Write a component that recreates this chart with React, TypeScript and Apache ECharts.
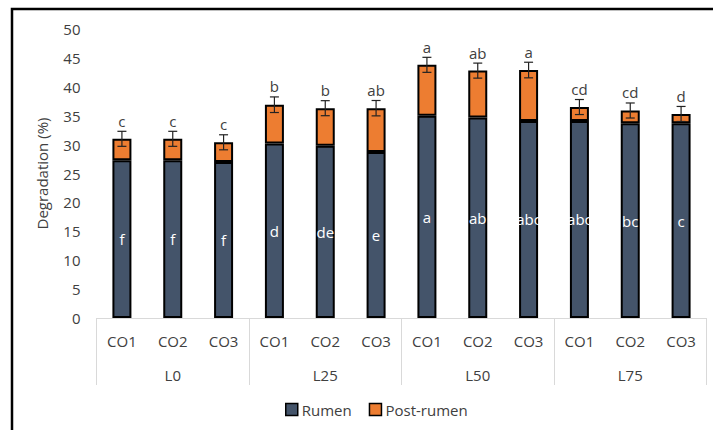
import React, { useEffect, useRef } from "react";
import * as echarts from "echarts";

const treatments = ["CO1", "CO2", "CO3", "CO1", "CO2", "CO3", "CO1", "CO2", "CO3", "CO1", "CO2", "CO3"];
const levels = ["L0", "L25", "L50", "L75"];
const rumen = [27.3, 27.3, 27.0, 30.2, 29.8, 28.7, 35.0, 34.7, 34.1, 34.1, 33.7, 33.7];
const postRumen = [3.7, 3.7, 3.4, 6.7, 6.5, 7.6, 8.8, 8.1, 8.8, 2.4, 2.2, 1.6];
const errorSE = [1.3, 1.3, 1.3, 1.35, 1.3, 1.33, 1.3, 1.3, 1.35, 1.3, 1.3, 1.3];
const rumenLetters = ["f", "f", "f", "d", "de", "e", "a", "ab", "abc", "abc", "bc", "c"];
const totalLetters = ["c", "c", "c", "b", "b", "ab", "a", "ab", "a", "cd", "cd", "d"];
const yTicks = { min: 0, max: 50, interval: 5 };

const FONT = "'Open Sans', 'Noto Sans', sans-serif";
const TEXT = "#404040";
const AXIS = "#d9d9d9";

export default function App() {
  const ref = useRef<HTMLDivElement>(null);
  useEffect(() => {
    document.body.style.margin = "0";
    const chart = echarts.init(ref.current!, null, { renderer: "svg" });
    const totals = rumen.map((r, i) => +(r + postRumen[i]).toFixed(2));
    const errData = totals.map((t, i) => [i, t, errorSE[i]]);
    chart.setOption({
      animation: false,
      textStyle: { fontFamily: FONT },
      graphic: [
        {
          type: "rect",
          shape: { x: 12, y: 9, width: 740, height: 460 },
          style: { fill: "none", stroke: "#000", lineWidth: 2.5 },
          silent: true,
        },
      ],
      legend: {
        left: 280,
        top: 397,
        itemWidth: 12,
        itemHeight: 12,
        itemGap: 17,
        textStyle: { fontFamily: FONT, fontSize: 15, color: TEXT, padding: [0, 0, 0, -1] },
        data: [
          { name: "Rumen", icon: "rect", itemStyle: { borderColor: "#000", borderWidth: 1.5 } },
          { name: "Post-rumen", icon: "rect", itemStyle: { borderColor: "#000", borderWidth: 1.5 } },
        ],
      },
      grid: { left: 96.5, right: 6.5, top: 29, bottom: 112, containLabel: false },
      xAxis: [
        {
          type: "category",
          data: treatments,
          axisLine: { show: true, lineStyle: { color: AXIS, width: 1 } },
          axisTick: { show: false },
          axisLabel: { color: TEXT, fontSize: 15, fontFamily: FONT, margin: 15, interval: 0 },
        },
        {
          type: "category",
          data: levels,
          position: "bottom",
          axisLine: { show: false },
          axisTick: { show: true, length: 67, lineStyle: { color: AXIS, width: 1 } },
          axisLabel: { color: TEXT, fontSize: 15, fontFamily: FONT, margin: 49, interval: 0 },
        },
      ],
      yAxis: {
        type: "value",
        min: yTicks.min,
        max: yTicks.max,
        interval: yTicks.interval,
        axisLine: { show: false },
        axisTick: { show: false },
        splitLine: { show: false },
        axisLabel: { color: TEXT, fontSize: 15, fontFamily: FONT, margin: 16 },
        name: "Degradation (%)",
        nameLocation: "middle",
        nameGap: 47,
        nameTextStyle: { color: TEXT, fontSize: 15, fontFamily: FONT },
      },
      series: [
        {
          name: "Rumen",
          type: "bar",
          stack: "deg",
          barWidth: 19,
          data: rumen,
          itemStyle: { color: "#44546a", borderColor: "#000", borderWidth: 2 },
          label: {
            show: true,
            position: "inside",
            color: "#fff",
            fontSize: 15,
            fontFamily: FONT,
            formatter: (p: any) => rumenLetters[p.dataIndex],
          },
        },
        {
          name: "Post-rumen",
          type: "bar",
          stack: "deg",
          barWidth: 19,
          data: postRumen,
          itemStyle: { color: "#ed7d31", borderColor: "#000", borderWidth: 2 },
        },
        {
          name: "err",
          type: "custom",
          z: 10,
          data: errData,
          encode: { x: 0, y: 1 },
          renderItem: (params: any, api: any) => {
            const i = api.value(0);
            const t = api.value(1);
            const e = api.value(2);
            const top = api.coord([i, t + e]);
            const bot = api.coord([i, t - e]);
            const cap = 4.5;
            const ls = { stroke: "#222", lineWidth: 1.2 };
            return {
              type: "group",
              children: [
                { type: "line", shape: { x1: top[0], y1: top[1], x2: bot[0], y2: bot[1] }, style: ls },
                { type: "line", shape: { x1: top[0] - cap, y1: top[1], x2: top[0] + cap, y2: top[1] }, style: ls },
                { type: "line", shape: { x1: bot[0] - cap, y1: bot[1], x2: bot[0] + cap, y2: bot[1] }, style: ls },
                {
                  type: "text",
                  x: top[0],
                  y: top[1] - 3,
                  style: {
                    text: totalLetters[params.dataIndex],
                    fill: TEXT,
                    font: `15px ${FONT}`,
                    align: "center",
                    verticalAlign: "bottom",
                  },
                },
              ],
            };
          },
        },
      ],
    });
    return () => chart.dispose();
  }, []);
  return <div ref={ref} style={{ width: 713, height: 430, position: "absolute", left: 0, top: 0 }} />;
}
